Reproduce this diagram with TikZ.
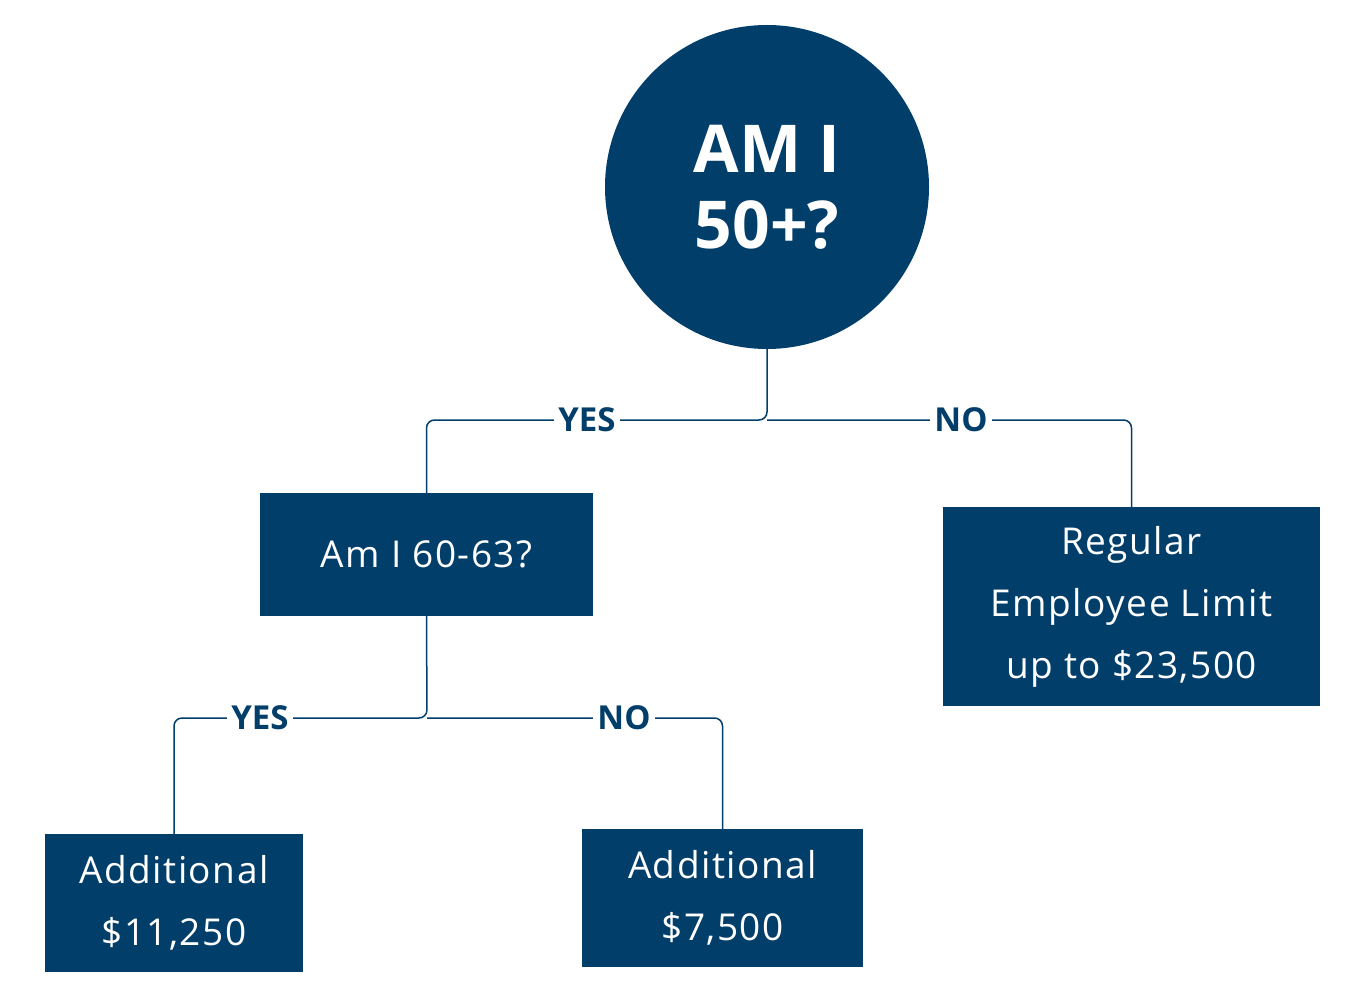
\documentclass[tikz,border=0pt]{standalone}
\usepackage{fontspec}
\setmainfont{Open Sans}[LetterSpace=4]
\newfontfamily\boldf{Open Sans}[LetterSpace=0]
\definecolor{navy}{RGB}{2,62,106}
\begin{document}
\begin{tikzpicture}[x=1pt,y=-1pt,
  box/.style={fill=navy,text=white,inner sep=0,font=\fontsize{37}{62}\selectfont,align=center},
  lbl/.style={fill=white,text=navy,inner sep=4pt,font=\boldf\fontsize{33}{33}\selectfont\bfseries},
  conn/.style={draw=navy,line width=1.5pt,rounded corners=8pt}]
\useasboundingbox (0,0) rectangle (1366,1000);
\node[circle,fill=navy,minimum size=324pt,inner sep=0,text=white,align=center,font=\boldf\fontsize{66}{76}\selectfont\bfseries] (q1) at (767,187) {AM I\\50+?};
\node[box,minimum width=333pt,minimum height=123pt] (q2) at (426.5,554.5) {Am I 60-63?};
\node[box,minimum width=377pt,minimum height=199pt] (r1) at (1131.5,606.5) {Regular\\Employee Limit\\up to \$23,500};
\node[box,minimum width=258pt,minimum height=138pt] (r2) at (174,903) {Additional\\\$11,250};
\node[box,minimum width=281pt,minimum height=138pt] (r3) at (722.5,898) {Additional\\\$7,500};
\coordinate (s1) at (767,420);
\coordinate (s2) at (427,718);
\draw[conn] (q1.south) -- (s1) -| (q2.north);
\draw[conn] (s1) -| (r1.north);
\draw[conn] (q2.south) -- (s2) -| (r2.north);
\draw[conn] (s2) -| (r3.north);
\node[lbl] (y1) at (587,420) {YES};
\node[lbl] (n1) at (961,420) {NO};
\node[lbl] (y2) at (260,718) {YES};
\node[lbl] (n2) at (624,718) {NO};
\end{tikzpicture}
\end{document}
